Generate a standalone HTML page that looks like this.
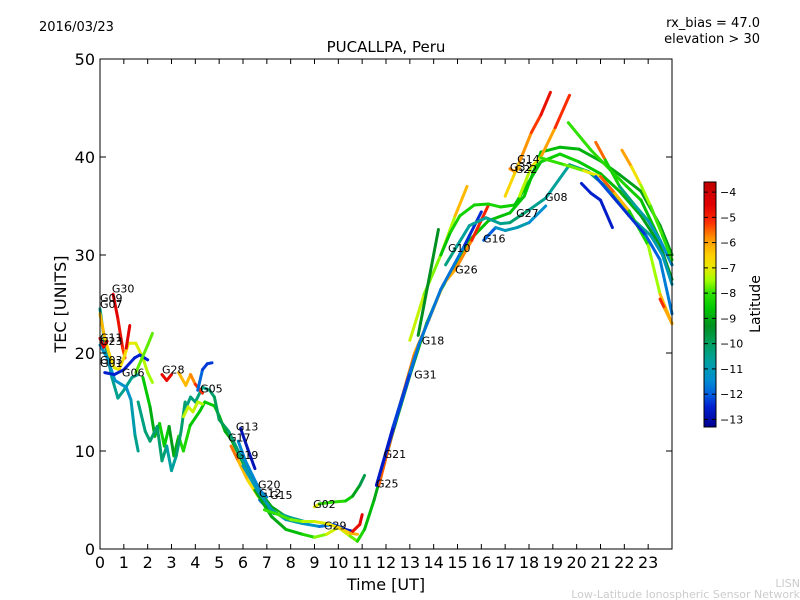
<!DOCTYPE html>
<html><head><meta charset="utf-8"><style>
body{margin:0;background:#fff;}
svg{display:block;font-family:"DejaVu Sans","Liberation Sans",sans-serif;}
</style></head><body>
<svg id="chart" width="800" height="600" viewBox="0 0 800 600" xmlns="http://www.w3.org/2000/svg">
<rect width="800" height="600" fill="#fff"/>
<text x="39" y="31" font-size="13">2016/03/23</text>
<text x="760" y="27" font-size="13" text-anchor="end">rx_bias = 47.0</text>
<text x="760" y="43" font-size="13" text-anchor="end">elevation &gt; 30</text>
<text x="386" y="52" font-size="15" text-anchor="middle">PUCALLPA, Peru</text>
<text transform="translate(66,304) rotate(-90)" font-size="16" text-anchor="middle">TEC [UNITS]</text>
<text x="386" y="590" font-size="16" text-anchor="middle">Time [UT]</text>
<text x="800" y="587" font-size="11" fill="#ccc" text-anchor="end">LISN</text>
<text x="800" y="598" font-size="11" fill="#ccc" text-anchor="end">Low-Latitude Ionospheric Sensor Network</text>
<defs><linearGradient id="cmapgrad" x1="0" y1="1" x2="0" y2="0"></linearGradient></defs>
<g id="plot"></g>
<rect x="704" y="182" width="12" height="245" fill="url(#cmapgrad)" stroke="#000" stroke-width="1"/>
<g id="cbar"></g>
<text transform="translate(760,304) rotate(-90)" font-size="14" text-anchor="middle">Latitude</text>
</svg>
<script>
const xTicks=[0,1,2,3,4,5,6,7,8,9,10,11,12,13,14,15,16,17,18,19,20,21,22,23];
const yTicks=[0,10,20,30,40,50];
const cbarTicks=[-4,-5,-6,-7,-8,-9,-10,-11,-12,-13];
const latMin=-13.3, latMax=-3.6;
const seriesNames=["G07","G03","G30","G09","G11","G11b","G06","Gx1","Gnoisy","Gteal","G05","G28","Gorg","Gblue","Gyel","G13","G19","Gdesc","G20","B1","B2","B3","Bred","G02","R1","R2","R3","R4","R5","R6","R7","G16","rise1","rise2","D1","D2","D3","H1","H2","H3","H4","H5","G25"];
const seriesT=[
[0,0.2,0.5,0.75,1.0,1.34,1.6],
[0,0.3,0.63,1.1,1.3,1.47,1.6],
[0.55,0.75,0.95,1.05],
[0,0.2,0.4,0.6,0.8,1.0,1.2,1.5,1.8,2.0,2.2],
[0,0.15,0.3],
[1.1,1.25],
[0.2,0.6,1.0,1.45,1.67,2.0],
[1.5,2.0,2.2],
[1.8,2.1,2.3,2.5,2.7,2.9,3.1,3.3,3.5,3.78,4.2,4.4,4.8,5.0,5.25,5.5,6.0,6.5,7.2,7.8],
[1.6,1.9,2.1,2.4,2.6,2.8,3.0,3.2,3.4,3.57],
[3.57,3.8,4.0,4.3,4.6,4.8,5.0,5.4,5.8,6.3,6.8,7.3,8.0,8.6],
[2.6,2.8,3.0],
[3.3,3.6,3.8,4.0,4.3],
[4.1,4.3,4.5,4.7],
[3.5,3.7,3.9,4.1,4.3],
[5.9,6.2,6.5],
[5.8,6.1,6.4,6.7,7.0],
[5.5,5.8,6.2,6.6,7.0,7.5],
[6.7,7.0,7.3],
[6.5,7.2,7.8,8.5,9.0,9.5,10.0,10.5,10.8,11.1,11.5],
[6.0,6.6,7.2,7.8,8.5,9.2,9.8,10.3,10.6],
[6.9,7.5,8.0,8.5,9.0,9.5,10.0,10.5,10.8],
[10.6,10.9,11.0],
[9.0,9.2,9.8,10.3,10.6,10.9,11.1],
[11.5,12.3,13.0,13.7,14.3,15.0,15.5,16.3,17.2,17.8,18.5,19.3,20.1,21.0,21.8,22.7,23.5,24],
[11.7,12.5,13.2,13.8,14.4,14.9,15.6,16.3],
[11.6,12.4,13.4,14.3,15.3,16.0],
[13.0,13.6,14.3,14.9,15.4],
[13.35,13.8,14.2],
[14.3,14.7,15.1,15.7,16.3,16.8,17.4,18.0,18.5,19.3,20.1,21.0,21.8,22.7,23.5,24],
[14.5,15.0,15.5,16.2,16.8,17.2,18.0,18.7,19.7,20.5,21.4,22.2,23.1,23.6,24],
[16.1,16.6,17.0,17.5,18.0,18.7],
[17.0,17.6,18.1,18.5,18.9],
[17.6,18.1,18.5,19.1,19.7],
[19.65,20.6,21.4,22.1,22.7,23.5,24],
[20.8,21.2,21.8,22.4,23.0,23.5,24],
[21.9,22.3,22.7,23.1,23.6,24],
[18.5,19.5,20.3,21.0,21.6,22.2,23.0,23.5,24],
[20.2,20.6,21.0,21.5],
[20.8,21.5,22.2,22.9,23.5,24],
[17.2,17.4,17.6],
[23.5,23.7,24],
[11.6,12.3,13.0,13.4]
];
const seriesV=[
[24.5,21,17.5,15.4,16.2,17.5,17.8],
[20.8,19.5,17.2,16.5,15.2,11.6,10],
[26,23.5,20.5,19.5],
[24,21.5,19.8,18.5,18.3,19.5,21,21,19.5,18,17],
[21.5,20.6,21.2],
[20.5,22.8],
[18,17.8,18.3,19.5,19.8,19.3],
[18,20.8,22],
[17.5,14.5,11.5,12.8,10.5,12.5,9.5,11.5,10,12.6,14.1,15,14.6,13.6,12,11.2,8.8,6.5,4.3,3.3],
[15,12,11,12.5,9,10.5,8,9.5,12,15],
[14.2,15.5,15,16.5,16.2,15.5,13.2,12,10,7.5,5,3.8,3.2,2.8],
[17.8,17.2,17.8],
[18,16.7,17.8,16.8,15.9],
[16.2,18.3,18.9,19],
[13.5,14.5,14,15,14.8],
[12.3,10.2,8.2],
[11,9,7.5,6,5.3],
[10.5,9,7,5.5,4.2,3.6],
[5,4.2,3.6],
[6,3.3,2.0,1.5,1.2,1.5,2.2,1.3,0.8,2.0,5],
[8.5,6,4,3,2.6,2.3,2.5,2,1.8],
[4,3.5,3,2.8,2.8,2.6,2.2,1.6,1.5],
[1.8,2.5,3.5],
[4.3,4.6,4.8,4.9,5.4,6.5,7.5],
[5,12,17.7,23,26.4,29.5,31.5,33.5,34.3,36,40.5,41,40.8,39.6,38.2,36.5,33,30],
[6.5,14,20,23.4,27,28.5,31.5,35.1],
[6.5,13,21,26.5,31,34.4],
[21.3,26,30,34,37],
[21.8,27.5,32.6],
[30,32.3,34,35.1,35.2,34.9,35.1,37.5,39.5,40.3,39.5,38.3,36.5,34,31,27.5],
[29,31,33,33.8,33.2,33.3,34.6,35.8,39.2,38.5,36.6,34,32,30,27],
[31.5,32.8,32.5,32.8,33.3,35],
[36,39.5,42.5,44.3,46.6],
[36,39,40,43,46.3],
[43.5,40.7,38.7,37,35.6,31.5,29],
[41.5,39.7,37,35.2,33.5,31.5,29],
[40.7,39,37.1,35,32,29.5],
[39.9,39.2,38.6,38,36.3,34.5,31,26,23],
[37.3,36.3,35.6,32.8],
[38,36,34,32,29.5,24],
[38.8,38.5,38.9],
[25.5,24.5,23],
[6.5,12.5,18,21]
];
const seriesLat=[
[-10.5,-10.5,-10.5,-10.5,-10.5,-10.5,-10.5],
[-11.3,-11.3,-11.3,-11.3,-11.3,-10.5,-10.5],
[-4.5,-4.5,-5,-5.5],
[-6,-6.5,-6.5,-7,-7,-6.5,-7,-7,-7.2,-7.5,-7.5],
[-4.5,-4.5,-4.5],
[-4.5,-4.5],
[-12.5,-12.5,-12.5,-12.5,-12.5,-12.5],
[-7.8,-7.8,-7.8],
[-8.5,-8.7,-9.2,-8.5,-8.3,-8.8,-9.5,-8.3,-8,-8.5,-8.7,-8.5,-8.5,-8.7,-9,-9,-9,-9,-9,-9],
[-10.2,-10.5,-10,-10.3,-10,-10.5,-11,-10.3,-10,-10.3],
[-10.3,-10.5,-10,-10.5,-10.3,-10,-9.8,-10,-10.5,-10.5,-10.5,-10.5,-10.5,-10.5],
[-4.5,-4.8,-4.5],
[-6,-6.5,-6,-5.5,-4.8],
[-11.5,-12.3,-12.3,-12.3],
[-7.2,-7.4,-7.0,-7.5,-7.2],
[-12.8,-12.8,-12.8],
[-11.5,-11.5,-11.5,-11.5,-11.5],
[-5.2,-6,-6.5,-7,-7.5,-7.8],
[-12.3,-11.5,-11.5],
[-9,-9,-9,-8.5,-8,-7.3,-7,-7.5,-8,-8.5,-9],
[-11,-11,-11,-10.8,-11,-11.5,-12,-12.5,-12.8],
[-8,-8,-7.8,-7.5,-7.2,-7,-6.7,-6.3,-6],
[-4.8,-4.6,-4.5],
[-6,-8,-8,-8.2,-8.7,-9.5,-10],
[-9,-9,-8.8,-8.7,-8.7,-8.5,-8.6,-8.7,-8.7,-8.5,-8.6,-8.8,-8.8,-9,-9,-9.2,-9.2,-9.2],
[-5.5,-5.5,-5.8,-6.2,-6.2,-6,-5.5,-4.5],
[-12.5,-12.3,-12,-11.5,-12,-12.8],
[-7,-7.5,-7.8,-7,-5.5],
[-9.3,-9.3,-9.3],
[-8.8,-8.5,-8.2,-8.5,-8.3,-8.3,-8.5,-8.8,-8.6,-8.3,-8.5,-8.7,-8.8,-9,-9.2,-9.2],
[-10.3,-10.5,-10.8,-10.5,-10.7,-10.3,-10,-11,-10.3,-10.3,-10.5,-10.5,-10.8,-11,-11],
[-12.5,-11.5,-11,-11,-10.8,-12],
[-7,-6.2,-5.5,-5,-4.5],
[-7.5,-7.2,-6.5,-5.5,-4.8],
[-8,-8,-8.2,-8.3,-8.5,-8.8,-9],
[-4.6,-6.5,-10.2,-10.5,-11,-11.3,-11.5],
[-5.5,-6.5,-7.2,-7.8,-8,-8.2],
[-8,-8,-7.5,-6.5,-4.5,-8,-8.5,-6.5,-6],
[-12.5,-12.5,-12.5,-12.7],
[-12,-12.3,-12.5,-12.2,-11.8,-11.5],
[-5.5,-6,-6.5],
[-4.5,-5.8,-6.3],
[-12.7,-12.5,-12,-11.5]
];
const labelText=["G30","G09","G07","G11","G23","G03","G01","G06","G28","G05","G13","G17","G19","G20","G12","G15","G02","G29","G21","G25","G31","G18","G26","G10","G16","G27","G08","G14","G32","G22"];
const labelT=[0.5,0,0,0,0,0,0,0.92,2.6,4.2,5.7,5.37,5.7,6.63,6.67,7.13,8.94,9.4,11.9,11.58,13.18,13.5,14.9,14.6,16.07,17.46,18.67,17.5,17.2,17.4];
const labelV=[26.6,25.6,25,21.6,21.2,19.3,19,18,18.3,16.4,12.5,11.4,9.6,6.6,5.7,5.5,4.6,2.4,9.7,6.7,17.8,21.3,28.5,30.7,31.7,34.3,35.9,39.8,39,38.8];

const cmapLat=[-13.3,-12.5,-12,-11.4,-10.7,-10,-9.3,-8.6,-8,-7.5,-7,-6.5,-5.8,-5.2,-4.5,-3.6];
const cmapCol=[[0,0,144],[0,32,208],[0,96,224],[0,144,208],[0,160,160],[0,160,96],[0,144,32],[0,200,0],[48,224,0],[160,255,0],[232,232,0],[255,208,0],[255,144,0],[255,48,0],[224,0,0],[192,0,0]];

const X0=100,X1=672,Y0=549,Y1=59;
const xs=t=>X0+t*(X1-X0)/24;
const ys=v=>Y0-v*(Y0-Y1)/50;
const NS="http://www.w3.org/2000/svg";
function cmap(lat){
  if(lat<=cmapLat[0]) lat=cmapLat[0];
  if(lat>=cmapLat[cmapLat.length-1]) lat=cmapLat[cmapLat.length-1];
  for(let i=0;i<cmapLat.length-1;i++){
    if(lat<=cmapLat[i+1]){
      const f=(lat-cmapLat[i])/(cmapLat[i+1]-cmapLat[i]);
      const a=cmapCol[i],b=cmapCol[i+1];
      return `rgb(${Math.round(a[0]+(b[0]-a[0])*f)},${Math.round(a[1]+(b[1]-a[1])*f)},${Math.round(a[2]+(b[2]-a[2])*f)})`;
    }
  }
  return 'rgb(192,0,0)';
}
function mk(tag,attrs,parent){const e=document.createElementNS(NS,tag);for(const k in attrs)e.setAttribute(k,attrs[k]);(parent||document.getElementById('plot')).appendChild(e);return e;}
const grad=document.getElementById('cmapgrad');
cmapLat.forEach((l,i)=>{
  mk('stop',{offset:(l-latMin)/(latMax-latMin),'stop-color':`rgb(${cmapCol[i].join(',')})`},grad);
});
seriesT.forEach((ts,si)=>{
  const vs=seriesV[si]||[], ls=seriesLat[si]||[];
  const g=mk('g',{});
  
  
  for(let i=0;i<ts.length-1;i++){
    if(vs[i+1]===undefined) break;
    const l1=ls[i]!==undefined?ls[i]:-9, l2=ls[i+1]!==undefined?ls[i+1]:l1;
    const ln=mk('line',{x1:xs(ts[i]),y1:ys(vs[i]),x2:xs(ts[i+1]),y2:ys(vs[i+1]),stroke:cmap((l1+l2)/2),'stroke-width':3,'stroke-linecap':'round'},g);
    
    
  }
});
labelText.forEach((s,i)=>{
  const t=mk('text',{x:xs(labelT[i]),y:ys(labelV[i])+4,'font-size':11});
  
  
  t.textContent=s;
});
const fr=mk('rect',{x:X0,y:Y1,width:X1-X0,height:Y0-Y1,fill:'none',stroke:'#000','stroke-width':1});


xTicks.forEach(v=>{
  const x=xs(v);
  mk('line',{x1:x,y1:Y0,x2:x,y2:Y0-5,stroke:'#000'});
  mk('line',{x1:x,y1:Y1,x2:x,y2:Y1+5,stroke:'#000'});
  const t=mk('text',{x:x,y:Y0+19,'font-size':16,'text-anchor':'middle'});
  
  
  t.textContent=v;
});
yTicks.forEach(v=>{
  const y=ys(v);
  mk('line',{x1:X0,y1:y,x2:X0+6,y2:y,stroke:'#000'});
  mk('line',{x1:X1,y1:y,x2:X1-6,y2:y,stroke:'#000'});
  const t=mk('text',{x:X0-5,y:y+6,'font-size':16,'text-anchor':'end'});
  
  
  t.textContent=v;
});
const cb=document.getElementById('cbar');
cbarTicks.forEach(v=>{
  const y=182+(latMax-v)/(latMax-latMin)*245;
  mk('line',{x1:704,y1:y,x2:708,y2:y,stroke:'#000'},cb);
  mk('line',{x1:716,y1:y,x2:712,y2:y,stroke:'#000'},cb);
  const t=mk('text',{x:720,y:y+4,'font-size':11},cb);
  
  
  t.textContent='\u2212'+Math.abs(v);
});
</script>
</body></html>
